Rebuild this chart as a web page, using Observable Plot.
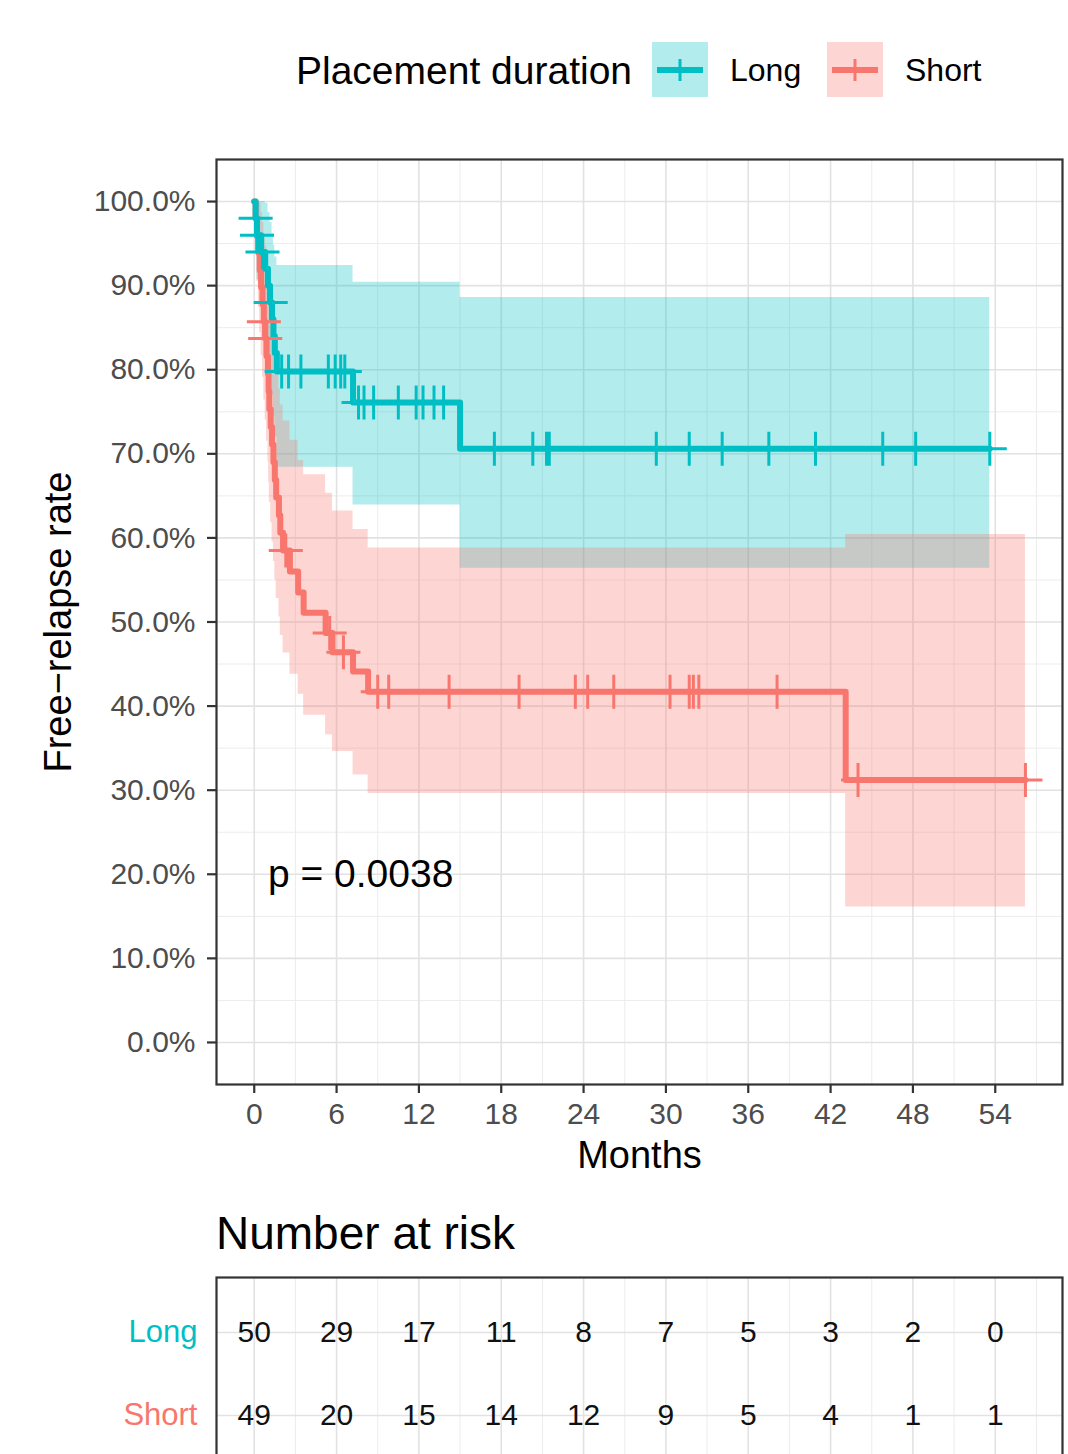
<!DOCTYPE html>
<html><head><meta charset="utf-8">
<script src="https://cdn.jsdelivr.net/npm/d3@7"></script>
<script src="https://cdn.jsdelivr.net/npm/@observablehq/plot@0.6"></script>
<style>
html,body{margin:0;padding:0;overflow:hidden;background:#fff;width:1068px;height:1454px;}
#root{position:relative;width:1068px;height:1454px;font-family:"Liberation Sans",Arial,sans-serif;color:#000;}
.abs{position:absolute;white-space:nowrap;line-height:1;}
.abs svg, #root > svg{display:block;}
</style></head><body><div id="root"></div>
<script>
// ---------- data ----------
const strata = ["Long", "Short"];
const LONG_C = "#00BFC4";
const SHORT_C = "#F8766D";

const longTime  = [0, 0.1, 0.2, 0.5, 0.8, 1.0, 1.15, 1.3, 1.4, 1.5, 1.65, 7.2, 15.0, 53.6];
const longSurv  = [100, 98, 96, 94, 92, 90, 88, 86, 84, 82, 79.8, 76.1, 70.6, 70.6];
const longLower = [100, 94.2, 90.7, 87.6, 84.7, 82.1, 79.4, 76.9, 74.4, 72.0, 68.4, 63.9, 56.4, 56.4];
const longUpper = [100, 100, 100, 100, 99.8, 98.7, 97.5, 96.2, 94.8, 93.4, 92.4, 90.4, 88.6, 88.6];
const longCensT = [0.1, 0.2, 0.6, 1.2, 2.0, 2.5, 3.4, 5.4, 5.9, 6.3, 6.6, 7.6, 8.0, 8.7, 10.5, 11.8, 12.3, 13.1, 13.8, 17.5, 20.3, 21.3, 21.5, 29.3, 31.7, 34.1, 37.5, 40.9, 45.8, 48.2, 53.6];
const longCensS = [98, 96, 94, 88, 79.8, 79.8, 79.8, 79.8, 79.8, 79.8, 79.8, 76.1, 76.1, 76.1, 76.1, 76.1, 76.1, 76.1, 76.1, 70.6, 70.6, 70.6, 70.6, 70.6, 70.6, 70.6, 70.6, 70.6, 70.6, 70.6, 70.6];

const shortTime  = [0, 0.1, 0.2, 0.3, 0.4, 0.5, 0.6, 0.7, 0.8, 0.9, 1.0, 1.05, 1.1, 1.2, 1.3, 1.4, 1.5, 1.6, 1.8, 1.9, 2.1, 2.6, 3.2, 3.6, 5.2, 5.7, 7.2, 8.3, 43.1, 56.2];
const shortSurv  = [100, 98.0, 95.9, 93.9, 91.8, 89.8, 87.8, 85.7, 83.7, 81.6, 79.5, 77.4, 75.3, 73.2, 71.1, 69.0, 66.9, 64.8, 62.7, 60.6, 58.5, 56.0, 53.5, 51.1, 48.7, 46.4, 44.1, 41.7, 31.2, 31.2];
const shortLower = [100, 94.1, 90.5, 87.4, 84.4, 81.7, 79.1, 76.4, 74.0, 71.5, 69.0, 66.6, 64.2, 61.8, 59.5, 57.2, 55.0, 52.8, 50.6, 48.4, 46.3, 43.8, 41.4, 38.9, 36.6, 34.6, 31.8, 29.6, 16.1, 16.1];
const shortUpper = [100, 100, 100, 100, 99.8, 98.7, 97.5, 96.1, 94.7, 93.0, 91.6, 90.1, 88.4, 86.8, 85.0, 83.2, 81.4, 79.6, 77.7, 75.8, 73.9, 71.6, 69.2, 67.5, 65.3, 63.2, 61.0, 58.8, 60.4, 60.4];
const shortCensT = [0.7, 0.8, 2.3, 5.5, 6.5, 9.0, 9.8, 14.2, 19.3, 23.4, 24.3, 26.2, 30.3, 31.7, 32.0, 32.4, 38.1, 44.0, 56.2];
const shortCensS = [85.7, 83.7, 58.5, 48.7, 46.4, 41.7, 41.7, 41.7, 41.7, 41.7, 41.7, 41.7, 41.7, 41.7, 41.7, 41.7, 41.7, 31.2, 31.2];

const xMajor = [0, 6, 12, 18, 24, 30, 36, 42, 48, 54];
const xMinor = [3, 9, 15, 21, 27, 33, 39, 45, 51, 57];
const yMajor = [0, 10, 20, 30, 40, 50, 60, 70, 80, 90, 100];
const yMinor = [5, 15, 25, 35, 45, 55, 65, 75, 85, 95];

const riskTimes = [0, 6, 12, 18, 24, 30, 36, 42, 48, 54];
const riskLong  = [50, 29, 17, 11, 8, 7, 5, 3, 2, 0];
const riskShort = [49, 20, 15, 14, 12, 9, 5, 4, 1, 1];

const pText = "p = 0.0038";
const pX = 1.0, pY = 20;

// ---------- tables ----------
const rowsOf = (T, S, L, U) => T.map((t, i) => ({t, s: S[i], lo: L[i], hi: U[i]}));
const longRows = rowsOf(longTime, longSurv, longLower, longUpper);
const shortRows = rowsOf(shortTime, shortSurv, shortLower, shortUpper);
const longCens = longCensT.map((t, i) => ({t, s: longCensS[i]}));
const shortCens = shortCensT.map((t, i) => ({t, s: shortCensS[i]}));
const riskRows = riskTimes.flatMap((t, i) => [{t, g: "Long", n: riskLong[i]}, {t, g: "Short", n: riskShort[i]}]);

const FONT = '"Liberation Sans", Arial, sans-serif';
const xDomain = [-2.75, 58.9];
const root = document.getElementById("root");

function place(el, left, top) {
  const w = document.createElement("div");
  w.className = "abs"; w.style.left = left + "px"; w.style.top = top + "px";
  w.appendChild(el); root.appendChild(w); return w;
}
function label(text, left, top, size, color) {
  const d = document.createElement("div");
  d.className = "abs"; d.textContent = text;
  d.style.left = left + "px"; d.style.top = top + "px";
  d.style.fontSize = size + "px"; d.style.color = color || "#000";
  root.appendChild(d); return d;
}

// ---------- main chart ----------
const gridMinor = {stroke: "#ececec", strokeOpacity: 1, strokeWidth: 1};
const gridMajor = {stroke: "#e2e2e2", strokeOpacity: 1, strokeWidth: 1.6};
const main = Plot.plot({
  width: 1068, height: 1190,
  marginLeft: 216, marginRight: 6, marginTop: 159, marginBottom: 106,
  x: {domain: xDomain},
  y: {domain: [-5, 105]},
  style: {fontFamily: FONT, fontSize: "30px", background: "white", color: "black"},
  marks: [
    Plot.gridX(xMinor, gridMinor),
    Plot.gridY(yMinor, gridMinor),
    Plot.gridX(xMajor, gridMajor),
    Plot.gridY(yMajor, gridMajor),
    Plot.areaY(longRows, {x: "t", y1: "lo", y2: "hi", curve: "step-after", fill: LONG_C, fillOpacity: 0.3}),
    Plot.areaY(shortRows, {x: "t", y1: "lo", y2: "hi", curve: "step-after", fill: SHORT_C, fillOpacity: 0.3}),
    Plot.line(shortRows, {x: "t", y: "s", curve: "step-after", stroke: SHORT_C, strokeWidth: 6}),
    Plot.line(longRows, {x: "t", y: "s", curve: "step-after", stroke: LONG_C, strokeWidth: 6}),
    Plot.dot(longCens, {x: "t", y: "s", symbol: "plus", r: 11, stroke: LONG_C, strokeWidth: 3}),
    Plot.dot(shortCens, {x: "t", y: "s", symbol: "plus", r: 11, stroke: SHORT_C, strokeWidth: 3}),
    Plot.text([pText], {x: pX, y: pY, text: d => d, textAnchor: "start", lineAnchor: "middle", fontSize: 39, fill: "black"}),
    Plot.axisX({ticks: xMajor, tickFormat: d => String(d), tickSize: 9, tickPadding: 9, fontSize: 30, fill: "#4d4d4d", stroke: "#333", strokeWidth: 2.2, label: null}),
    Plot.axisY({ticks: yMajor, tickFormat: d => d.toFixed(1) + "%", tickSize: 9, tickPadding: 12, fontSize: 30, fill: "#4d4d4d", stroke: "#333", strokeWidth: 2.2, label: null}),
    Plot.text(["Months"], {text: d => d, frameAnchor: "bottom", dy: 71, textAnchor: "middle", lineAnchor: "middle", fontSize: 38, fill: "black"}),
    Plot.text(["Free\u2212relapse rate"], {text: d => d, frameAnchor: "left", dx: -158, rotate: -90, textAnchor: "middle", lineAnchor: "middle", fontSize: 38, fill: "black"}),
    Plot.frame({stroke: "#333", strokeWidth: 2.2})
  ]
});
place(main, 0, 0);

// ---------- legend ----------
label("Placement duration", 296, 51, 39);
function key(color) {
  const ns = "http://www.w3.org/2000/svg";
  const svg = document.createElementNS(ns, "svg");
  svg.setAttribute("width", 56); svg.setAttribute("height", 55);
  svg.innerHTML = `<rect width="56" height="55" fill="${color}" fill-opacity="0.3"/>
    <line x1="5" x2="51" y1="28" y2="28" stroke="${color}" stroke-width="6"/>
    <line x1="28" x2="28" y1="17" y2="39" stroke="${color}" stroke-width="3"/>`;
  return svg;
}
place(key(LONG_C), 652, 42);
label("Long", 730, 54, 32);
place(key(SHORT_C), 827, 42);
label("Short", 905, 54, 32);

// ---------- risk table ----------
label("Number at risk", 216, 1210, 46);
const risk = Plot.plot({
  width: 1068, height: 209,
  marginLeft: 216, marginRight: 6, marginTop: 7, marginBottom: 10,
  x: {domain: xDomain, axis: null},
  y: {type: "point", domain: strata, padding: 0.643, axis: null},
  style: {fontFamily: FONT, fontSize: "30px", background: "white", color: "black"},
  marks: [
    Plot.gridX(xMinor, gridMinor),
    Plot.gridX(xMajor, gridMajor),
    Plot.gridY(strata, gridMajor),
    Plot.text(riskRows, {x: "t", y: "g", text: "n", fontSize: 30, fill: "#111"}),
    Plot.text(["Long"], {y: d => d, text: d => d, frameAnchor: "left", dx: -19, textAnchor: "end", fontSize: 31, fill: LONG_C}),
    Plot.text(["Short"], {y: d => d, text: d => d, frameAnchor: "left", dx: -19, textAnchor: "end", fontSize: 31, fill: SHORT_C}),
    Plot.frame({stroke: "#333", strokeWidth: 2.2})
  ]
});
place(risk, 0, 1270);
</script></body></html>
